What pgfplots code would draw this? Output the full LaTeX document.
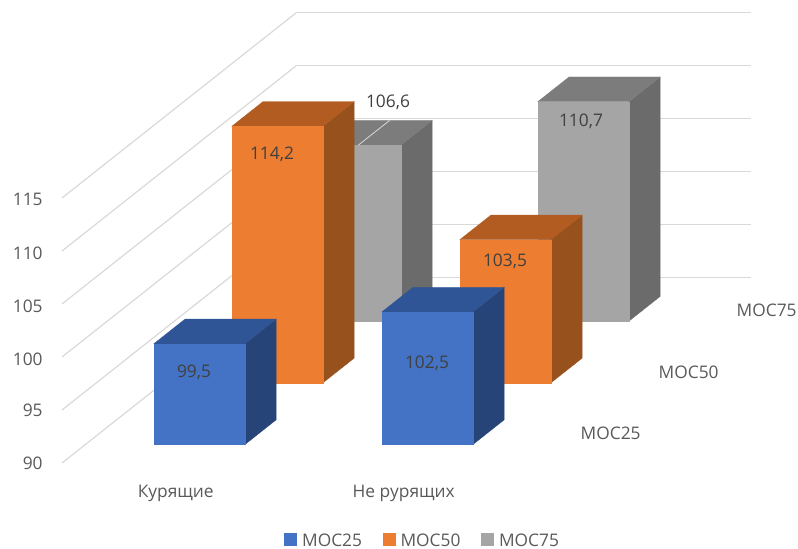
\documentclass[border=0pt]{standalone}
\usepackage{fontspec}
\setmainfont{Open Sans}
\usepackage{pgfplots}
\pgfplotsset{compat=1.18}

\definecolor{blueF}{HTML}{4472C4}\definecolor{blueT}{HTML}{2F5597}\definecolor{blueS}{HTML}{264478}
\definecolor{oranF}{HTML}{ED7D31}\definecolor{oranT}{HTML}{B35C22}\definecolor{oranS}{HTML}{96511D}
\definecolor{grayF}{HTML}{A5A5A5}\definecolor{grayT}{HTML}{7C7C7C}\definecolor{grayS}{HTML}{6B6B6B}
\definecolor{gridc}{HTML}{D9D9D9}
\definecolor{textc}{HTML}{595959}
\definecolor{labelc}{HTML}{404040}

% One column: front, side and top faces. #1 category slot, #2 series slot, #3 value, #4 colour prefix
\newcommand{\column}[4]{%
  \pgfmathsetmacro{\xa}{#1+0.3}\pgfmathsetmacro{\xb}{#1+0.7}%
  \pgfmathsetmacro{\ya}{#2+0.3}\pgfmathsetmacro{\yb}{#2+0.7}%
  \edef\doplot{%
    \noexpand\addplot3[fill=#4S,draw=#4S,line width=0.2pt,forget plot] coordinates {(\xb,\ya,90) (\xb,\yb,90) (\xb,\yb,#3) (\xb,\ya,#3)} -- cycle;
    \noexpand\addplot3[fill=#4T,draw=#4T,line width=0.2pt,forget plot] coordinates {(\xa,\ya,#3) (\xb,\ya,#3) (\xb,\yb,#3) (\xa,\yb,#3)} -- cycle;
    \noexpand\addplot3[fill=#4F,draw=#4F,line width=0.2pt,forget plot] coordinates {(\xa,\ya,90) (\xb,\ya,90) (\xb,\ya,#3) (\xa,\ya,#3)} -- cycle;
  }\doplot}

% Text placed by its distance from the axis corner
\newcommand{\vlabel}[3]{\node[text=labelc,font=\fontsize{13pt}{15pt}\selectfont] at (axis cs:0,0,90) [xshift={(#1-62)*0.75pt},yshift={(463-#2)*0.75pt}] {#3};}

\pgfplotsset{legend image code/.code={\fill[#1] (0pt,-3.2pt) rectangle (9pt,5.8pt);}}

\begin{document}
\begin{tikzpicture}
\begin{axis}[
  x={(171pt,0pt)}, y={(58.5pt,46.275pt)}, z={(0pt,7.95pt)},
  xmin=0, xmax=1.995, ymin=0, ymax=3, zmin=90, zmax=115,
  clip=false, no markers,
  axis line style={draw=none},
  tick style={draw=none},
  ztick={90,95,...,115},
  xtick={0.5,1.5}, xticklabels={Курящие,Не рурящих},
  ytick={0.5,1.5,2.5}, yticklabels={МОС25,МОС50,МОС75},
  xmajorgrids=false, ymajorgrids=false, zmajorgrids=true,
  grid style={gridc,line width=0.9pt},
  tick label style={text=textc,font=\fontsize{13pt}{15pt}\selectfont},
  xticklabel style={xshift=4.5pt,yshift=-12.75pt},
  yticklabel style={xshift=25pt,yshift=15pt},
  zticklabel style={xshift=-11pt,yshift=3.75pt},
  /pgf/number format/assume math mode=true,
  legend style={at={(axis cs:1.583,0,82.7)},anchor=center,draw=none,fill=none,
    inner ysep=0pt,nodes={inner ysep=0pt},
    legend columns=3,text=textc,font=\fontsize{13pt}{15pt}\selectfont,
    /tikz/every even column/.style={column sep=13.5pt},
    /tikz/every odd column/.style={column sep=2pt}},
]
% page corners
\coordinate (pageA) at (axis cs:-0.27193,0,133.679);
\coordinate (pageB) at (axis cs:3.22807,0,81.887);

% rear series
\column{0}{2}{106.6}{gray}
\column{1}{2}{110.7}{gray}
\addplot3[gridc,line width=0.6pt,forget plot] coordinates {(0.513,2.3,106.6) (0.513,2.7,106.6)};
% middle series
\column{0}{1}{114.2}{oran}
\column{1}{1}{103.5}{oran}
% front series
\column{0}{0}{99.5}{blue}
\column{1}{0}{102.5}{blue}

\vlabel{194}{372}{99,5}
\vlabel{272}{154}{114,2}
\vlabel{388}{102}{106,6}
\vlabel{427}{363}{102,5}
\vlabel{505}{261}{103,5}
\vlabel{581}{121}{110,7}

\addlegendimage{blueF}\addlegendentry{МОС25}
\addlegendimage{oranF}\addlegendentry{МОС50}
\addlegendimage{grayF}\addlegendentry{МОС75}
\end{axis}
\pgfresetboundingbox
\path[use as bounding box] (pageA) rectangle (pageB);
\end{tikzpicture}
\end{document}
